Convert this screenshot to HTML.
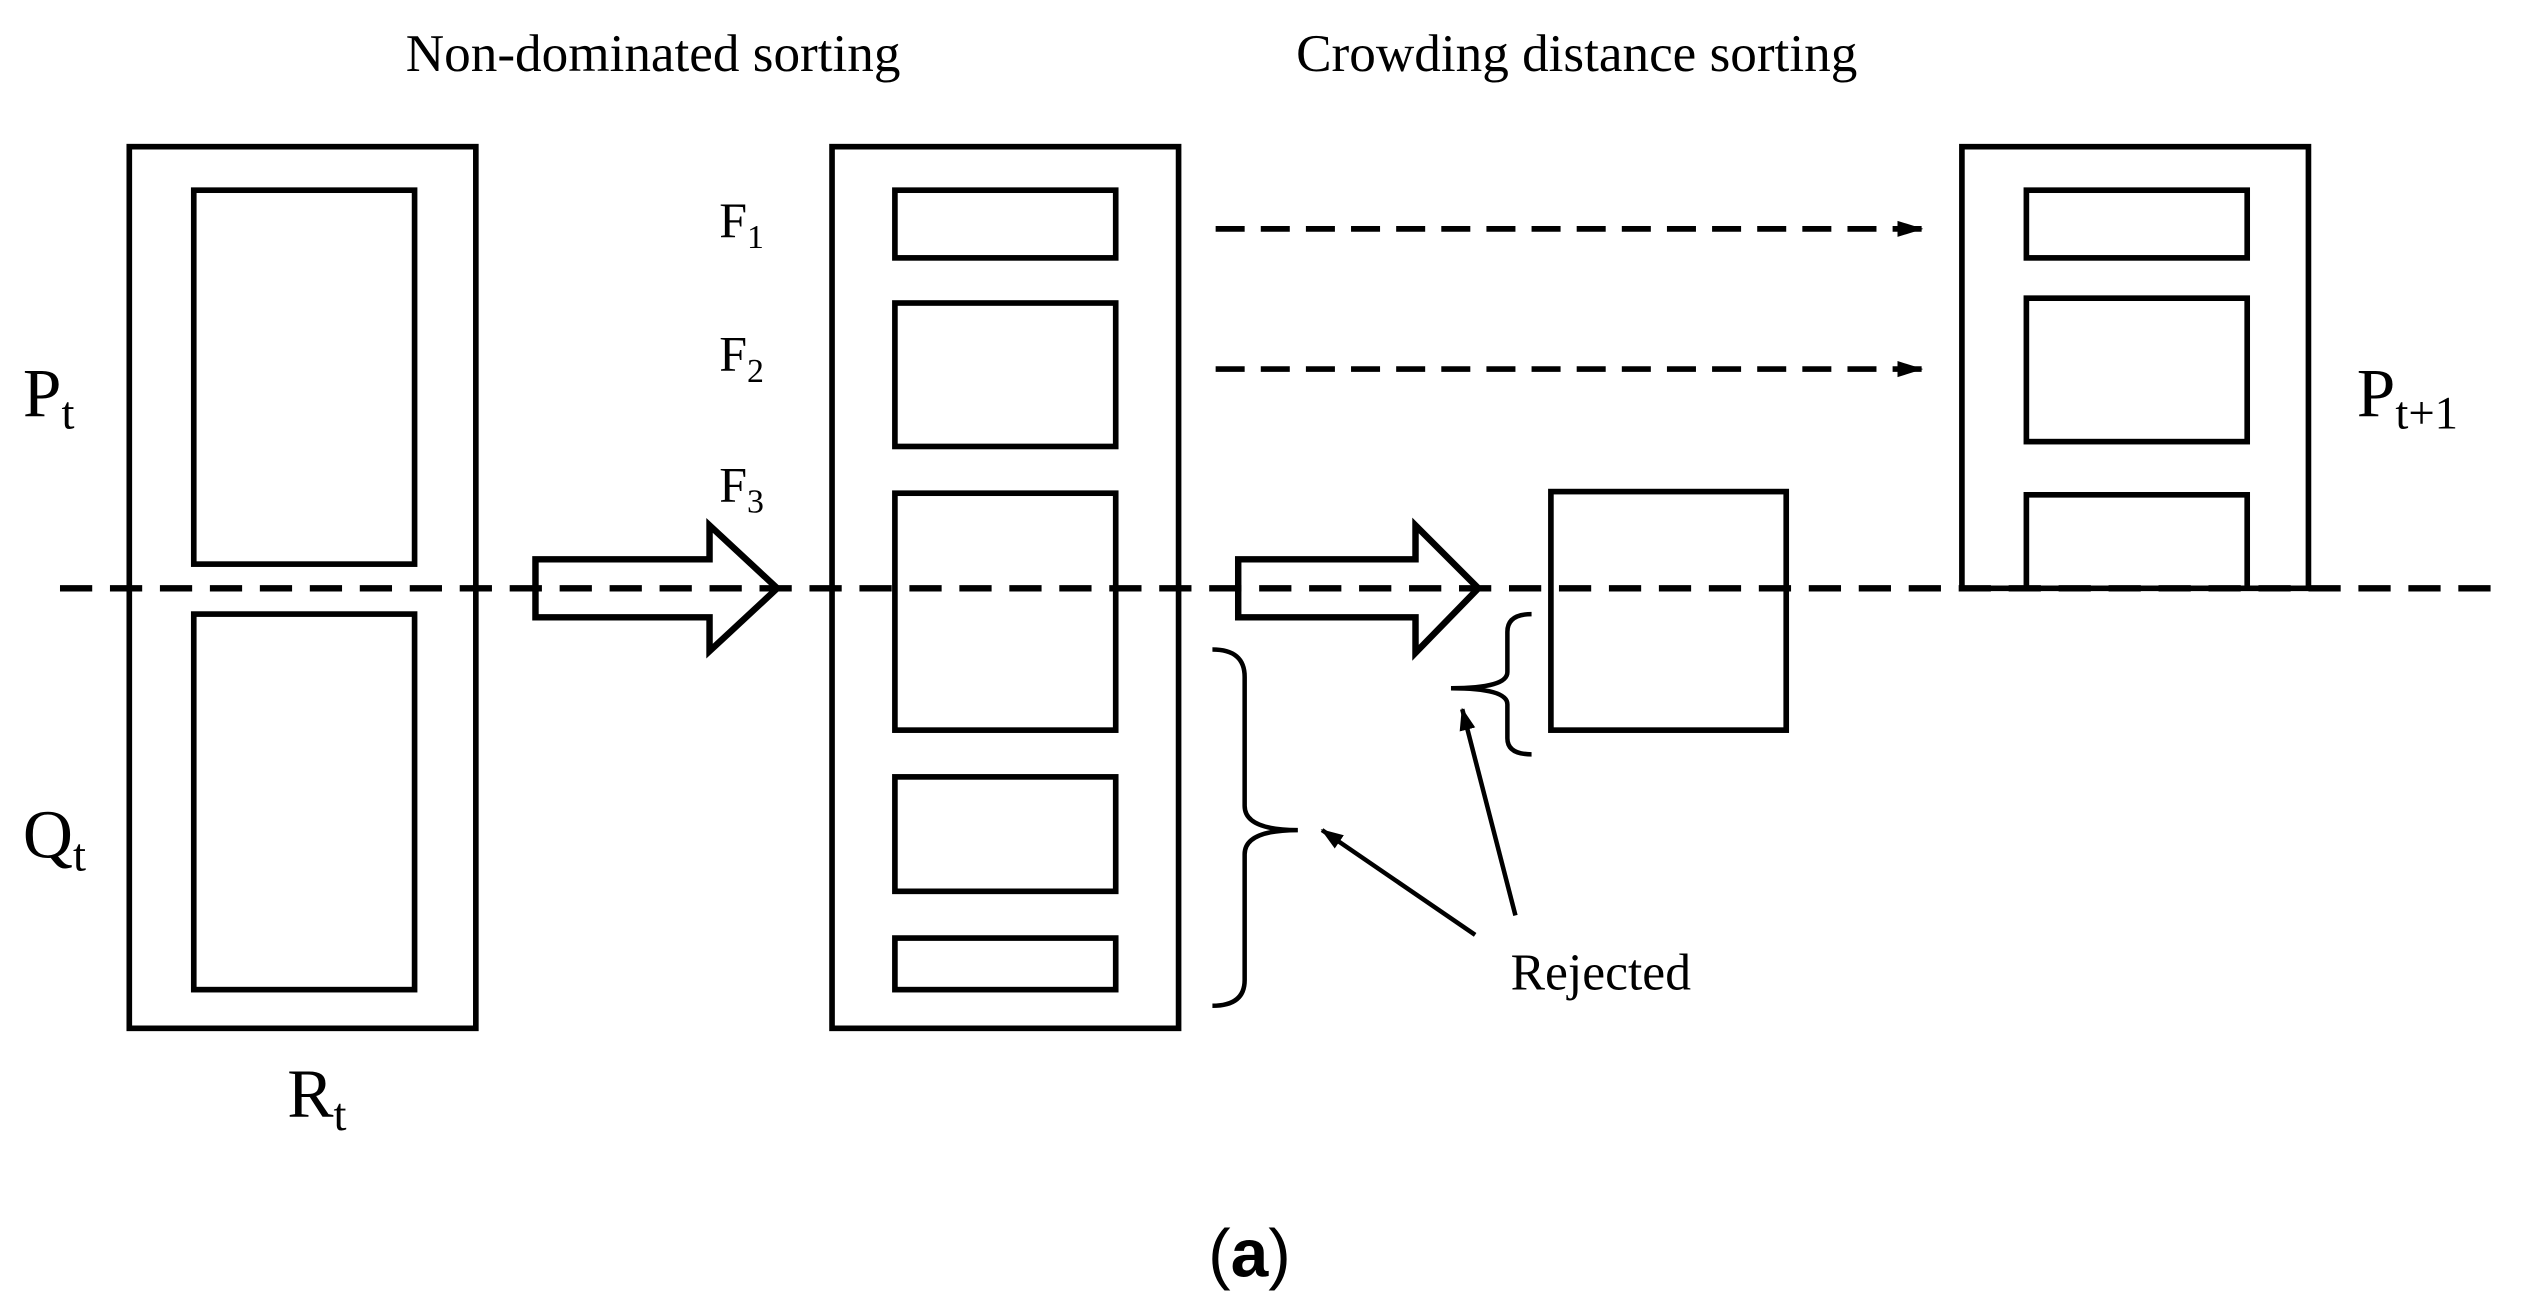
<!DOCTYPE html>
<html><head><meta charset="utf-8"><style>
html,body{margin:0;padding:0;background:#fff;}
svg{display:block;}
.s{font-family:"Liberation Serif",serif;fill:#000;}
</style></head><body>
<svg width="2528" height="1312" viewBox="0 0 1568 814" xmlns="http://www.w3.org/2000/svg">
<defs>
<marker id="ah" markerWidth="16" markerHeight="12" refX="15" refY="6" orient="auto" markerUnits="userSpaceOnUse">
<path d="M0,1 L16,6 L0,11 Z" fill="#000"/></marker>
<marker id="ah2" markerWidth="14" markerHeight="12" refX="13" refY="6" orient="auto" markerUnits="userSpaceOnUse">
<path d="M0,1 L14,6 L0,11 Z" fill="#000"/></marker>
</defs>
<g fill="none" stroke="#000" stroke-width="3.5">
<rect x="80" y="91" width="215" height="547"/>
<rect x="120" y="118" width="137" height="232"/>
<rect x="120" y="381" width="137" height="233"/>
<rect x="516" y="91" width="215" height="547"/>
<rect x="555" y="118" width="137" height="42"/>
<rect x="555" y="188" width="137" height="89"/>
<rect x="555" y="306" width="137" height="147"/>
<rect x="555" y="482" width="137" height="71"/>
<rect x="555" y="582" width="137" height="32"/>
<rect x="962" y="305" width="146" height="148"/>
<path d="M1217,365 L1217,91 L1432,91 L1432,365 Z"/>
<rect x="1257" y="118" width="137" height="42"/>
<rect x="1257" y="185" width="137" height="89"/>
<path d="M1257,365 L1257,307 L1394,307 L1394,365"/>
<path d="M332,347 L440,347 L440,326 L482,365 L440,404 L440,383 L332,383 Z" stroke-width="4"/>
<path d="M768,347 L878,347 L878,326 L917,365 L878,405 L878,383 L768,383 Z" stroke-width="4"/>
</g>
<line x1="37" y1="365" x2="1552" y2="365" stroke="#000" stroke-width="4" stroke-dasharray="20,11"/>
<line x1="754" y1="142" x2="1192" y2="142" stroke="#000" stroke-width="3.5" stroke-dasharray="18,10" marker-end="url(#ah)"/>
<line x1="754" y1="229" x2="1192" y2="229" stroke="#000" stroke-width="3.5" stroke-dasharray="18,10" marker-end="url(#ah)"/>
<g fill="none" stroke="#000" stroke-width="2.8">
<path d="M752,403 Q772,403 772,420 L772,500 Q772,515 805,515 Q772,515 772,530 L772,608 Q772,624 752,624"/>
<path d="M950,381 Q935,381 935,392 L935,417 Q935,427 900,427 Q935,427 935,437 L935,458 Q935,468 950,468"/>
<line x1="915" y1="580" x2="820" y2="515" marker-end="url(#ah2)"/>
<line x1="940" y1="568" x2="907" y2="440" marker-end="url(#ah2)"/>
</g>
<text class="s" x="405" y="44" font-size="33" text-anchor="middle">Non-dominated sorting</text>
<text class="s" x="978" y="44" font-size="33" text-anchor="middle">Crowding distance sorting</text>
<text class="s" x="14" y="258" font-size="43">P<tspan font-size="29" dy="8">t</tspan></text>
<text class="s" x="14" y="532" font-size="43">Q<tspan font-size="29" dy="8">t</tspan></text>
<text class="s" x="178" y="693" font-size="43">R<tspan font-size="29" dy="8">t</tspan></text>
<text class="s" x="446" y="147" font-size="31">F<tspan font-size="21" dy="7">1</tspan></text>
<text class="s" x="446" y="230" font-size="31">F<tspan font-size="21" dy="7">2</tspan></text>
<text class="s" x="446" y="311" font-size="31">F<tspan font-size="21" dy="7">3</tspan></text>
<text class="s" x="1462" y="258" font-size="43">P<tspan font-size="29" dy="8">t+1</tspan></text>
<text class="s" x="937" y="614" font-size="32">Rejected</text>
<text x="775" y="792" font-size="42" text-anchor="middle" font-family="Liberation Sans, sans-serif">(<tspan font-weight="bold">a</tspan>)</text>
</svg>
</body></html>
